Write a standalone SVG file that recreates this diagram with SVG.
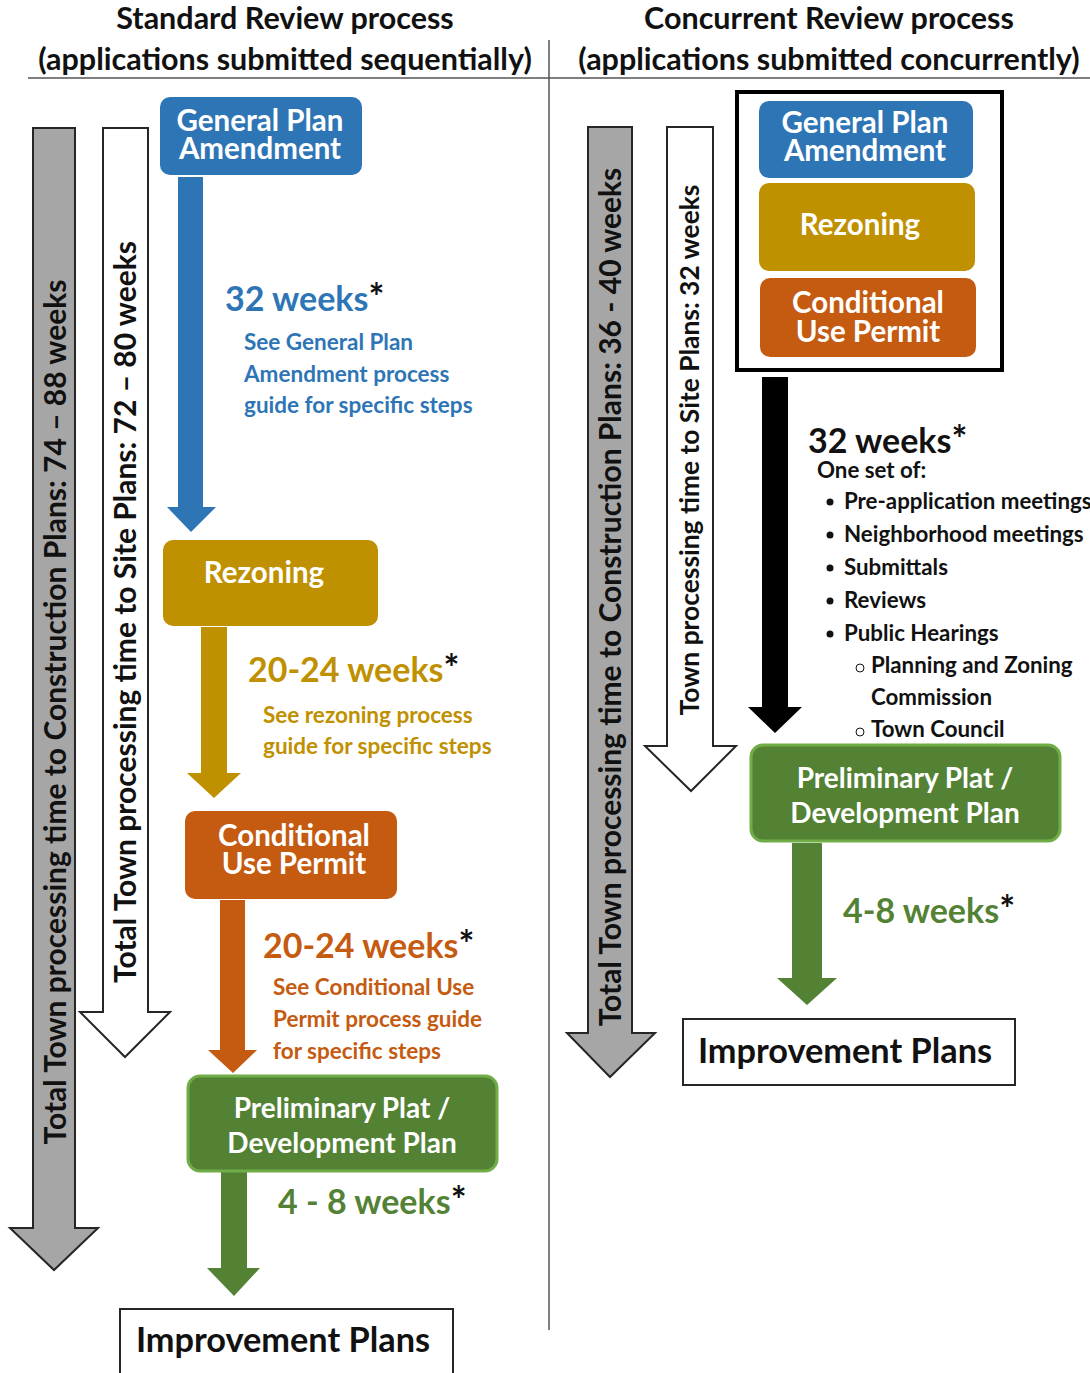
<svg xmlns="http://www.w3.org/2000/svg" width="1090" height="1373" viewBox="0 0 1090 1373">
<style>
text{font-family:Lato,"Open Sans","Liberation Sans",sans-serif;font-weight:bold}
.hd{font-size:30.5px;fill:#111;text-anchor:middle}
.vt{font-size:30px;fill:#111;text-anchor:middle}
.vs{font-size:26.4px;fill:#111;text-anchor:middle}
.bx{font-size:29.5px;fill:#fff;text-anchor:middle}
.pp{font-size:28px;fill:#fff;text-anchor:middle}
.wk{font-size:34px}
.ds{font-size:22.5px}
.li{font-size:22.3px;fill:#111}
.ast{fill:#111;font-size:1.1em}
.blue{fill:#2e75b6}
.gold{fill:#bf9000}
.orng{fill:#c55a11}
.grn{fill:#548235}
.ip{font-size:34.3px;fill:#111;text-anchor:middle}
</style>
<g id="headers">
<text class="hd" x="285" y="29">Standard Review process</text>
<text class="hd" x="285" y="70">(applications submitted sequentially)</text>
<text class="hd" x="829" y="29">Concurrent Review process</text>
<text class="hd" x="829" y="70">(applications submitted concurrently)</text>
<line x1="28" y1="78" x2="1090" y2="78" stroke="#7f7f7f" stroke-width="2"/>
<line x1="549" y1="40" x2="549" y2="1330" stroke="#555" stroke-width="1.5"/>
</g>
<g id="connectors">
<polygon id="left-total-construction" points="33,128 75,128 75,1228 98,1228 54,1270 10,1228 33,1228" fill="#a6a6a6" stroke="#262626" stroke-width="2"/>
<polygon id="left-total-site" points="103,128 148,128 148,1012 170,1012 125,1057 80,1012 103,1012" fill="#fff" stroke="#262626" stroke-width="2"/>
<polygon id="right-total-construction" points="588,127 632,127 632,1033 655,1033 610,1077 567,1033 588,1033" fill="#a6a6a6" stroke="#262626" stroke-width="2"/>
<polygon id="right-total-site" points="667,127 713,127 713,746 736,746 691,791 645,746 667,746" fill="#fff" stroke="#262626" stroke-width="2"/>
<polygon points="178,177 203,177 203,507 216,507 191,532 167,507 178,507" fill="#2e75b6"/>
<polygon points="201,627 227,627 227,773 241,773 214,798 187,773 201,773" fill="#bf9000"/>
<polygon points="220,900 245,900 245,1050 257,1050 233,1073 208,1050 220,1050" fill="#c55a11"/>
<polygon points="221,1172 247,1172 247,1268 260,1268 234,1296 207,1268 221,1268" fill="#548235"/>
<polygon points="762,377 788,377 788,707 802,707 775,733 748,707 762,707" fill="#000"/>
<polygon points="792,843 822,843 822,978 837,978 807,1005 777,978 792,978" fill="#548235"/>
<text class="vt" transform="translate(66,712) rotate(-90)">Total Town processing time to Construction Plans: 74 – 88 weeks</text>
<text class="vt" transform="translate(136,612) rotate(-90)">Total Town processing time to Site Plans: 72 – 80 weeks</text>
<text class="vt" transform="translate(621,597) rotate(-90)">Total Town processing time to Construction Plans: 36 - 40 weeks</text>
<text class="vs" transform="translate(699,450) rotate(-90)">Town processing time to Site Plans: 32 weeks</text>
<text class="wk blue" x="225" y="311">32 weeks<tspan class="ast">*</tspan></text>
<text class="ds blue" x="244" y="350">See General Plan</text>
<text class="ds blue" x="244" y="382">Amendment process</text>
<text class="ds blue" x="244" y="413">guide for specific steps</text>
<text class="wk gold" x="248" y="682">20-24 weeks<tspan class="ast">*</tspan></text>
<text class="ds gold" x="263" y="723">See rezoning process</text>
<text class="ds gold" x="263" y="754">guide for specific steps</text>
<text class="wk orng" x="263" y="958">20-24 weeks<tspan class="ast">*</tspan></text>
<text class="ds orng" x="273" y="995">See Conditional Use</text>
<text class="ds orng" x="273" y="1027">Permit process guide</text>
<text class="ds orng" x="273" y="1059">for specific steps</text>
<text class="wk grn" x="278" y="1214">4 - 8 weeks<tspan class="ast">*</tspan></text>
<text class="wk" x="808" y="453" fill="#111">32 weeks<tspan class="ast">*</tspan></text>
<text class="li" x="817" y="478">One set of:</text>
<g class="li">
<circle cx="830" cy="502" r="3.5" fill="#111"/><text class="li" x="844" y="509">Pre-application meetings</text>
<circle cx="830" cy="535" r="3.5" fill="#111"/><text class="li" x="844" y="542">Neighborhood meetings</text>
<circle cx="830" cy="568" r="3.5" fill="#111"/><text class="li" x="844" y="575">Submittals</text>
<circle cx="830" cy="601" r="3.5" fill="#111"/><text class="li" x="844" y="608">Reviews</text>
<circle cx="830" cy="634" r="3.5" fill="#111"/><text class="li" x="844" y="641">Public Hearings</text>
<circle cx="860" cy="668" r="4" fill="none" stroke="#111" stroke-width="1"/><text class="li" x="871" y="673">Planning and Zoning</text>
<text class="li" x="871" y="705">Commission</text>
<circle cx="860" cy="732" r="4" fill="none" stroke="#111" stroke-width="1"/><text class="li" x="871" y="737">Town Council</text>
</g>
<text class="wk grn" x="843" y="923">4-8 weeks<tspan class="ast">*</tspan></text>
</g>
<g id="std-gpa">
<rect x="160" y="97" width="202" height="78" rx="10" fill="#2e75b6"/>
<text class="bx" x="260" y="131">General Plan</text>
<text class="bx" x="260" y="159">Amendment</text>
</g>
<g id="std-rezoning">
<rect x="163" y="540" width="215" height="86" rx="10" fill="#bf9000"/>
<text class="bx" x="264" y="583">Rezoning</text>
</g>
<g id="std-cup">
<rect x="185" y="811" width="212" height="88" rx="10" fill="#c55a11"/>
<text class="bx" x="294" y="846">Conditional</text>
<text class="bx" x="294" y="874">Use Permit</text>
</g>
<g id="std-plat">
<rect x="188" y="1076" width="309" height="95" rx="12" fill="#548235" stroke="#70ad47" stroke-width="3"/>
<text class="pp" x="342" y="1118">Preliminary Plat /</text>
<text class="pp" x="342" y="1153">Development Plan</text>
</g>
<g id="std-improvement">
<rect x="120" y="1309" width="333" height="70" fill="#fff" stroke="#262626" stroke-width="2"/>
<text class="ip" x="283" y="1352">Improvement Plans</text>
</g>
<g id="conc-group">
<rect x="737" y="92" width="265" height="278" fill="#fff" stroke="#000" stroke-width="4"/>
</g>
<g id="conc-gpa">
<rect x="759" y="101" width="214" height="77" rx="10" fill="#2e75b6"/>
<text class="bx" x="865" y="133">General Plan</text>
<text class="bx" x="865" y="161">Amendment</text>
</g>
<g id="conc-rezoning">
<rect x="759" y="183" width="216" height="88" rx="10" fill="#bf9000"/>
<text class="bx" x="860" y="235">Rezoning</text>
</g>
<g id="conc-cup">
<rect x="760" y="278" width="216" height="79" rx="10" fill="#c55a11"/>
<text class="bx" x="868" y="313">Conditional</text>
<text class="bx" x="868" y="342">Use Permit</text>
</g>
<g id="conc-plat">
<rect x="751" y="745" width="309" height="96" rx="12" fill="#548235" stroke="#70ad47" stroke-width="3"/>
<text class="pp" x="905" y="788">Preliminary Plat /</text>
<text class="pp" x="905" y="823">Development Plan</text>
</g>
<g id="conc-improvement">
<rect x="683" y="1019" width="332" height="66" fill="#fff" stroke="#262626" stroke-width="2"/>
<text class="ip" x="845" y="1063">Improvement Plans</text>
</g>
</svg>
